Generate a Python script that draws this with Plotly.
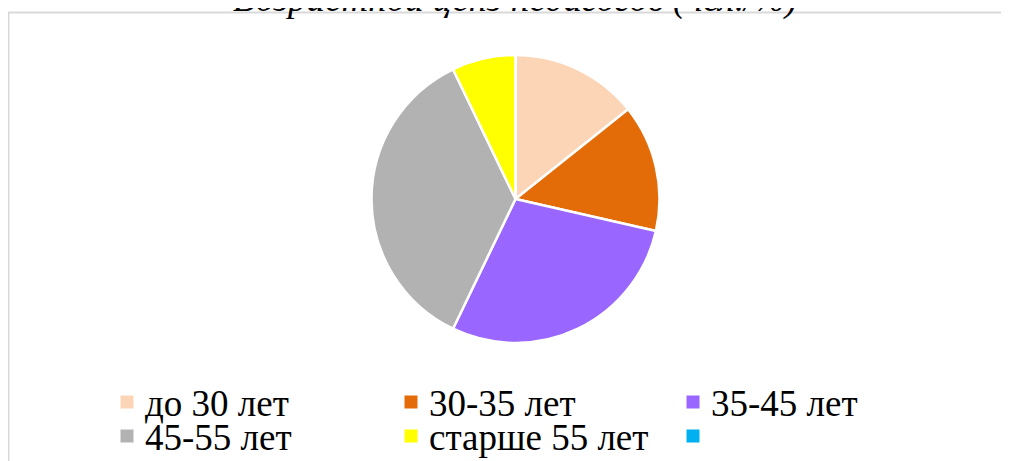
import plotly.graph_objects as go

# Age groups of teachers (counts)
labels = ["до 30 лет", "30-35 лет", "35-45 лет", "45-55 лет", "старше 55 лет", ""]
values = [2, 2, 4, 5, 1, 0]
colors = ["#FBD5B5", "#E36C09", "#9966FF", "#B2B2B2", "#FFFF00", "#00B0F0"]
title = "Возрастной ценз педагогов (чел./%)"

# page is drawn with an 8px body margin, so work in page pixels and convert
OFF = 8
W, H = 1009 - OFF, 461 - OFF
SERIF = "Liberation Serif"


def px(x):
    return (x - OFF) / W


def py(y):
    return 1 - (y - OFF) / H


fig = go.Figure()
fig.add_trace(go.Pie(
    labels=[l if l else " " for l in labels],
    values=values,
    sort=False,
    direction="clockwise",
    rotation=0,
    textinfo="none",
    hoverinfo="label+value+percent",
    showlegend=False,
    marker=dict(colors=colors, line=dict(color="white", width=2.5)),
    domain=dict(x=[px(515.5 - 144), px(515.5 + 144)], y=[py(343), py(55)]),
))

# chart frame (right and bottom edges fall outside the page)
fig.add_shape(type="rect", xref="paper", yref="paper",
              x0=px(8.5), x1=px(1015), y0=py(470), y1=py(12.5),
              line=dict(color="#D9D9D9", width=2))

fig.add_annotation(text=title, xref="paper", yref="paper",
                   x=px(515), y=py(22), xanchor="center", yanchor="bottom",
                   showarrow=False,
                   font=dict(family=SERIF, size=37, color="black", style="italic"))

# legend: 3 columns x 2 rows, like the original
col_x = [127, 411, 693]
row_y = [402, 436]
for i, (lab, col) in enumerate(zip(labels, colors)):
    cx, cy = col_x[i % 3], row_y[i // 3]
    fig.add_shape(type="rect", xref="paper", yref="paper",
                  x0=px(cx - 6.5), x1=px(cx + 6.5), y0=py(cy + 6.5), y1=py(cy - 6.5),
                  line=dict(width=0), fillcolor=col)
    if lab:
        fig.add_annotation(text=lab, xref="paper", yref="paper",
                           x=px(cx + 16), y=py(cy + 1), xanchor="left", yanchor="middle",
                           showarrow=False,
                           font=dict(family=SERIF, size=37, color="black"))

fig.update_layout(
    width=W, height=H,
    margin=dict(l=0, r=0, t=0, b=0),
    paper_bgcolor="white",
    font=dict(family=SERIF, color="black"),
)

fig.write_html("out.html")
